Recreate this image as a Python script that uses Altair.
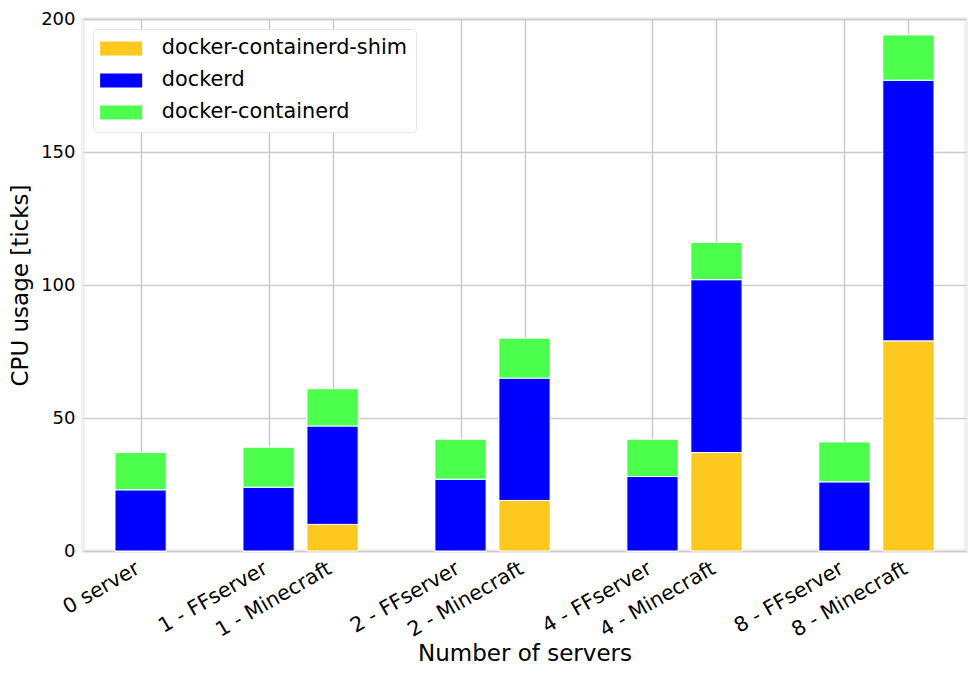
import altair as alt
import pandas as pd

categories = ["0 server", "1 - FFserver", "1 - Minecraft", "2 - FFserver", "2 - Minecraft",
              "4 - FFserver", "4 - Minecraft", "8 - FFserver", "8 - Minecraft"]
positions = [0, 2, 3, 5, 6, 8, 9, 11, 12]
shim = [0, 0, 10, 0, 19, 0, 37, 0, 79]
dockerd = [23, 24, 37, 27, 46, 28, 65, 26, 98]
containerd = [14, 15, 14, 15, 15, 14, 14, 15, 17]

series_names = ["docker-containerd-shim", "dockerd", "docker-containerd"]
series_colors = ["#FFC81E", "#0000FF", "#4CFF4C"]
y_ticks = [0, 50, 100, 150, 200]

rows = []
for i, (cat, pos) in enumerate(zip(categories, positions)):
    for order, (name, vals) in enumerate(zip(series_names, [shim, dockerd, containerd])):
        rows.append({"category": cat, "pos": pos, "series": name, "order": order, "value": vals[i]})
df = pd.DataFrame(rows)

label_map = "{" + ",".join(f"'{p}':'{c}'" for p, c in zip(positions, categories)) + "}"

FONT = "DejaVu Sans"

chart = alt.Chart(df).transform_stack(
    stack="value", groupby=["pos"], as_=["y0", "y1"],
    sort=[alt.SortField("order", order="ascending")]
).transform_calculate(
    x0="datum.pos - 0.4", x1="datum.pos + 0.4"
).mark_bar(stroke="white", strokeWidth=1).encode(
    x=alt.X("x0:Q",
            scale=alt.Scale(domain=[-0.9, 12.9], nice=False, zero=False),
            axis=alt.Axis(values=positions, labelExpr=f"{label_map}[datum.value]",
                          title="Number of servers", labelAngle=330, labelAlign="right",
                          labelBaseline="top", labelOffset=-8, labelPadding=7,
                          labelFontSize=20.5,
                          labelOverlap=False, labelBound=False,
                          titleY=109, titleBaseline="alphabetic")),
    x2="x1:Q",
    y=alt.Y("y0:Q", scale=alt.Scale(domain=[0, 200], nice=False),
            axis=alt.Axis(values=y_ticks, title="CPU usage [ticks]", labelPadding=8,
                          titleX=-56, titleBaseline="alphabetic")),
    y2="y1:Q",
    color=alt.Color("series:N",
                    scale=alt.Scale(domain=series_names, range=series_colors),
                    sort=series_names,
                    legend=alt.Legend(title=None, orient="none", legendX=10, legendY=10,
                                      symbolType="M-1.75,-1H4.25V1H-1.75Z", symbolSize=196,
                                      symbolStrokeWidth=0, labelOffset=39,
                                      labelFontSize=20.8, labelFont=FONT, labelLimit=400,
                                      labelColor="#000000",
                                      rowPadding=10, padding=9,
                                      fillColor="white", strokeColor="#e6e6e6",
                                      cornerRadius=4)),
).properties(
    width=883, height=532,
    background="white",
    autosize=alt.AutoSizeParams(type="none"),
    padding={"left": 75, "top": 11, "right": 2, "bottom": 116},
).configure_view(
    stroke="#f0f0f0", strokeWidth=4
).configure_axis(
    grid=True, gridColor="#cbcbcb", gridWidth=1.5, domain=False, ticks=False,
    labelFont=FONT, labelFontSize=18, labelColor="#000000",
    titleFont=FONT, titleFontSize=23, titleFontWeight="normal", titleColor="#000000",
)

chart.save("out.html", embed_options={"renderer": "svg", "actions": False})
